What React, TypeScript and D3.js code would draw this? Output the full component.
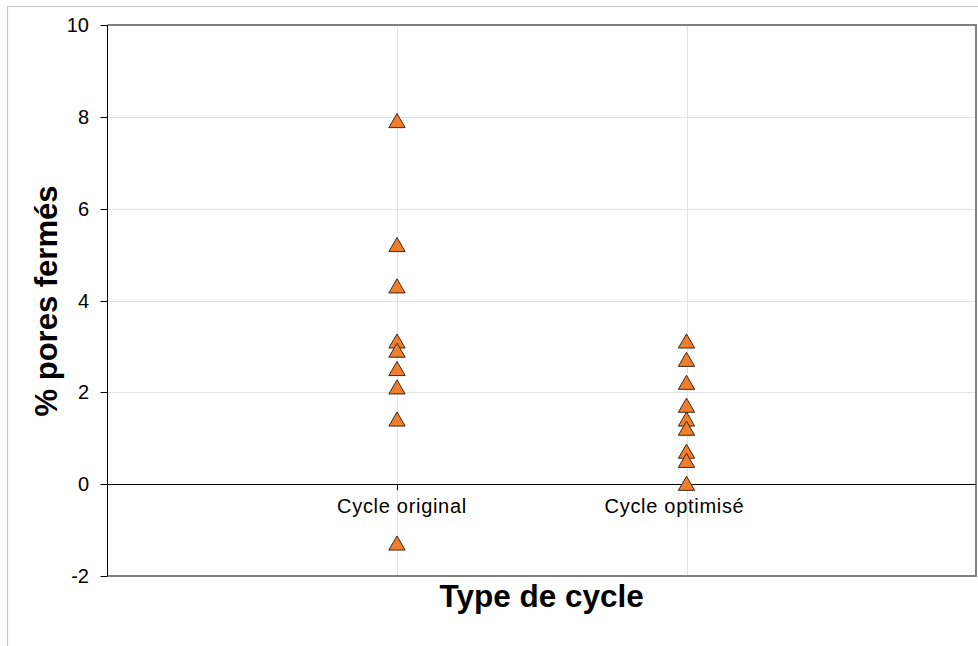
import React from "react";
import * as d3 from "d3";

const categories = ["Cycle original", "Cycle optimisé"];
const categoryLabelShift = [5, -12];
const originalValues = [7.9, 5.2, 4.3, 3.1, 2.9, 2.5, 2.1, 1.4, -1.3];
const optimiseValues = [3.1, 2.7, 2.2, 1.7, 1.4, 1.2, 0.7, 0.5, 0.0];
const yTicks = [-2, 0, 2, 4, 6, 8, 10];
const yLabel = "% pores fermés";
const xLabel = "Type de cycle";

const W = 978;
const H = 646;
const left = 107.5;
const right = 976;
const top = 25;
const bottom = 576;

export default function App() {
  const x = d3.scaleLinear().domain([0, 3]).range([left, right]);
  const y = d3.scaleLinear().domain([-2, 10]).range([bottom, top]);
  const series = [originalValues, optimiseValues];
  const tri = d3.symbol().type(d3.symbolTriangle).size(115)();
  const font = "Liberation Sans, Arial, sans-serif";

  return (
    <svg
      width={W}
      height={H}
      style={{ position: "absolute", left: 0, top: 0, background: "#fff" }}
      fontFamily={font}
    >
      <rect x={7.5} y={6.5} width={1100} height={800} fill="#fff" stroke="#c8c8c8" strokeWidth={1.2} />
      {/* gridlines */}
      {yTicks.filter((t) => t !== 0 && t !== -2 && t !== 10).map((t) => (
        <line key={"g" + t} x1={left} x2={right} y1={Math.round(y(t)) + 0.5} y2={Math.round(y(t)) + 0.5} stroke="#e2e2e2" strokeWidth={1} />
      ))}
      {categories.map((c, i) => (
        <line key={"v" + c} x1={Math.round(x(i + 1)) + 0.5} x2={Math.round(x(i + 1)) + 0.5} y1={top} y2={bottom} stroke="#e2e2e2" strokeWidth={1} />
      ))}
      {/* plot frame */}
      <line x1={left} x2={right} y1={top} y2={top} stroke="#808080" strokeWidth={2} />
      <line x1={left} x2={right + 1} y1={bottom} y2={bottom} stroke="#808080" strokeWidth={2} />
      <line x1={right} x2={right} y1={top - 1} y2={bottom + 1} stroke="#808080" strokeWidth={2} />
      {/* zero line */}
      <line x1={left} x2={right} y1={Math.round(y(0)) + 0.5} y2={Math.round(y(0)) + 0.5} stroke="#000" strokeWidth={1} />
      {categories.map((c, i) => (
        <line key={"t" + c} x1={Math.round(x(i + 1)) + 0.5} x2={Math.round(x(i + 1)) + 0.5} y1={y(0)} y2={y(0) + 6} stroke="#000" strokeWidth={1} />
      ))}
      {/* y axis */}
      <line x1={left} x2={left} y1={top} y2={bottom} stroke="#000" strokeWidth={1} />
      {yTicks.map((t) => (
        <g key={"yt" + t}>
          <line x1={left - 7} x2={left} y1={Math.round(y(t)) + 0.5} y2={Math.round(y(t)) + 0.5} stroke="#000" strokeWidth={1} />
          <text x={89} y={y(t) + 7} textAnchor="end" fontSize={20} fill="#000">
            {t}
          </text>
        </g>
      ))}
      {/* category labels */}
      {categories.map((c, i) => (
        <text key={"c" + c} x={x(i + 1) + categoryLabelShift[i]} y={513} textAnchor="middle" fontSize={20} letterSpacing={0.7} fill="#000">
          {c}
        </text>
      ))}
      {/* points */}
      {series.map((vals, i) =>
        vals.map((v, j) => (
          <path
            key={"p" + i + "-" + j}
            d={tri as string}
            transform={`translate(${x(i + 1)},${y(v) + 1.5})`}
            fill="#F07E2C"
            stroke="#3a2a1a"
            strokeWidth={1}
          />
        ))
      )}
      {/* axis titles */}
      <text x={(left + right) / 2} y={607} textAnchor="middle" fontSize={31.5} fontWeight="bold" fill="#000">
        {xLabel}
      </text>
      <text
        transform={`translate(57,301) rotate(-90)`}
        textAnchor="middle"
        fontSize={31}
        fontWeight="bold"
        fill="#000"
      >
        {yLabel}
      </text>
    </svg>
  );
}
